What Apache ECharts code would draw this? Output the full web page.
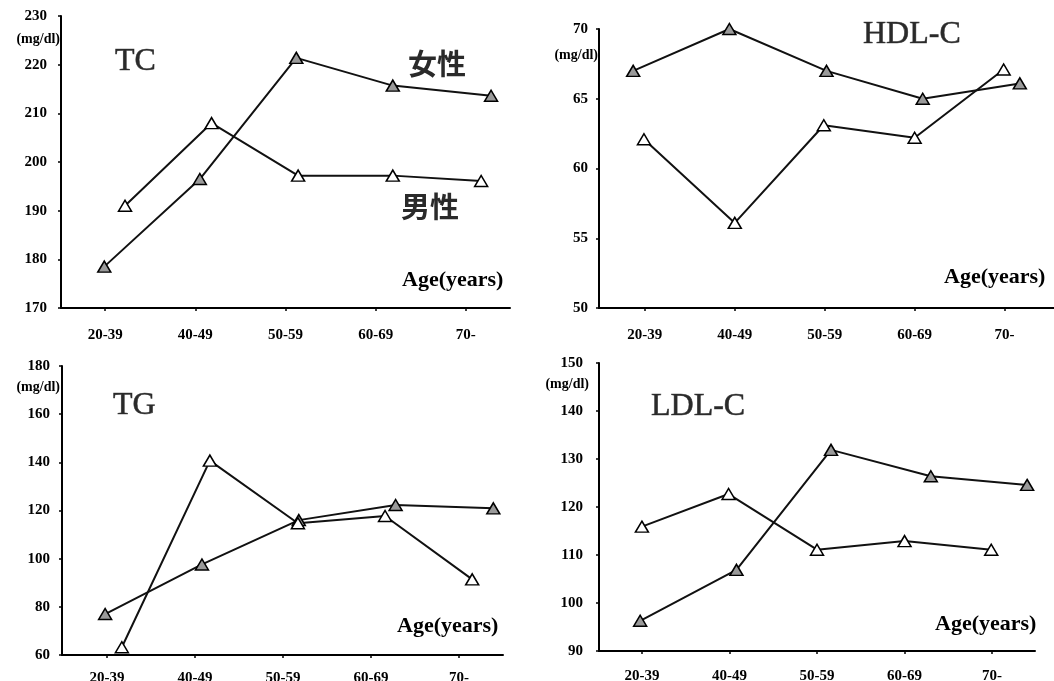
<!DOCTYPE html>
<html>
<head>
<meta charset="utf-8">
<script src="https://cdn.jsdelivr.net/npm/echarts@6/dist/echarts.min.js"></script>
<style>
  html, body { margin: 0; padding: 0; background: #ffffff; }
  #chart { width: 1054px; height: 681px; }
</style>
</head>
<body>
<div id="chart"></div>
<script>
// age groups (tick labels at 1..5 on the x axis)
const ageGroups = ['20-39', '40-49', '50-59', '60-69', '70-'];
const tickPos = [1, 2, 3, 4, 5];

// points in the figure are drawn slightly off their tick, so x is kept as read
const tcFemaleX = [0.99, 2.05, 3.12, 4.19, 5.28];
const tcFemale = [178.5, 196.5, 221.4, 215.7, 213.6];
const tcMaleX = [1.22, 2.18, 3.14, 4.19, 5.17];
const tcMale = [191, 208, 197.2, 197.2, 196.1];

const hdlFemaleX = [0.87, 1.94, 3.02, 4.09, 5.17];
const hdlFemale = [67, 70, 67, 65, 66.1];
const hdlMaleX = [0.99, 2.0, 2.99, 4.0, 4.99];
const hdlMale = [62.1, 56.1, 63.1, 62.2, 67.1];

const tgFemaleX = [0.98, 2.08, 3.18, 4.28, 5.39];
const tgFemale = [77, 97.6, 116, 122.3, 120.9];
const tgMaleX = [1.17, 2.17, 3.17, 4.16, 5.15];
const tgMale = [63.2, 140.7, 114.7, 117.7, 91.4];

const ldlFemaleX = [0.98, 2.08, 3.16, 4.3, 5.4];
const ldlFemale = [96.3, 106.9, 131.9, 126.4, 124.6];
const ldlMaleX = [1.0, 1.99, 3.0, 4.0, 4.99];
const ldlMale = [115.9, 122.7, 111.1, 112.9, 111.1];

const SERIF = '"Liberation Serif", "DejaVu Serif", serif';
const CJK = '"Noto Sans CJK JP", "Noto Sans CJK SC", sans-serif';

const zip = (xs, ys) => xs.map((x, i) => [x, ys[i]]);

const panels = [
    { grid: { left: 61, top: 16, width: 449, height: 292 }, x: [0.51, 5.49], y: [170, 230, 10], xMargin: 20, yMargin: 14,
      female: zip(tcFemaleX, tcFemale), male: zip(tcMaleX, tcMale) },
    { grid: { left: 599, top: 29, width: 455, height: 279 }, x: [0.49, 5.55], y: [50, 70, 5], xMargin: 20, yMargin: 11,
      female: zip(hdlFemaleX, hdlFemale), male: zip(hdlMaleX, hdlMale) },
    { grid: { left: 62, top: 366, width: 441, height: 289 }, x: [0.49, 5.5], y: [60, 180, 20], xMargin: 16, yMargin: 12,
      female: zip(tgFemaleX, tgFemale), male: zip(tgMaleX, tgMale) },
    { grid: { left: 599, top: 363, width: 436, height: 288 }, x: [0.51, 5.49], y: [90, 150, 10], xMargin: 18, yMargin: 16,
      female: zip(ldlFemaleX, ldlFemale), male: zip(ldlMaleX, ldlMale) },
];

const axisLine = { show: true, lineStyle: { color: '#000', width: 2 } };
const axisTick = { show: true, inside: false, length: 3, lineStyle: { color: '#000', width: 1.5 } };

const lineSeries = (data, idx, fill) => ({
    type: 'line',
    xAxisIndex: idx,
    yAxisIndex: idx,
    data: data,
    symbol: 'triangle',
    symbolSize: [13, 11],
    lineStyle: { color: '#111', width: 2 },
    itemStyle: { color: fill, borderColor: '#000', borderWidth: 1.5 },
    z: 3,
});

const textEl = (text, x, y, font, opts = {}) => ({
    type: 'text',
    x: x,
    y: y,
    style: Object.assign({
        text: text,
        font: font,
        fill: '#222',
        textAlign: 'left',
        textVerticalAlign: 'middle',
    }, opts),
});

const option = {
    backgroundColor: '#ffffff',
    animation: false,
    grid: panels.map(p => Object.assign({ containLabel: false, outerBoundsMode: 'none' }, p.grid)),
    xAxis: panels.map((p, i) => ({
        type: 'value',
        gridIndex: i,
        min: p.x[0],
        max: p.x[1],
        axisLine: axisLine,
        axisTick: Object.assign({ customValues: tickPos }, axisTick),
        splitLine: { show: false },
        axisLabel: {
            customValues: tickPos,
            formatter: v => ageGroups[Math.round(v) - 1],
            color: '#000',
            fontFamily: SERIF,
            fontWeight: 'bold',
            fontSize: 15,
            margin: p.xMargin,
        },
    })),
    yAxis: panels.map((p, i) => ({
        type: 'value',
        gridIndex: i,
        min: p.y[0],
        max: p.y[1],
        interval: p.y[2],
        axisLine: axisLine,
        axisTick: axisTick,
        splitLine: { show: false },
        axisLabel: {
            color: '#000',
            fontFamily: SERIF,
            fontWeight: 'bold',
            fontSize: 15,
            margin: p.yMargin,
        },
    })),
    series: panels.flatMap((p, i) => [
        lineSeries(p.female, i, '#9a9a9a'),
        lineSeries(p.male, i, '#ffffff'),
    ]),
    graphic: [
        // units under the top tick
        textEl('(mg/dl)', 60, 39, 'bold 14px ' + SERIF, { textAlign: 'right', fill: '#000' }),
        textEl('(mg/dl)', 598, 55, 'bold 14px ' + SERIF, { textAlign: 'right', fill: '#000' }),
        textEl('(mg/dl)', 60, 387, 'bold 14px ' + SERIF, { textAlign: 'right', fill: '#000' }),
        textEl('(mg/dl)', 589, 384, 'bold 14px ' + SERIF, { textAlign: 'right', fill: '#000' }),
        // panel titles
        textEl('TC', 115, 62, '32px ' + SERIF, { fill: '#2a2a2a', stroke: '#555', lineWidth: 0.6 }),
        textEl('HDL-C', 863, 35, '32px ' + SERIF, { fill: '#2a2a2a', stroke: '#555', lineWidth: 0.6 }),
        textEl('TG', 113, 406, '32px ' + SERIF, { fill: '#2a2a2a', stroke: '#555', lineWidth: 0.6 }),
        textEl('LDL-C', 651, 407, '32px ' + SERIF, { fill: '#2a2a2a', stroke: '#555', lineWidth: 0.6 }),
        // sex labels
        textEl('女性', 437, 64, 'bold 29px ' + CJK, { textAlign: 'center', fill: '#2a2a2a' }),
        textEl('男性', 430, 207, 'bold 29px ' + CJK, { textAlign: 'center', fill: '#2a2a2a' }),
        // x axis names
        textEl('Age(years)', 402, 280, 'bold 22px ' + SERIF, { fill: '#000' }),
        textEl('Age(years)', 944, 277, 'bold 22px ' + SERIF, { fill: '#000' }),
        textEl('Age(years)', 397, 626, 'bold 22px ' + SERIF, { fill: '#000' }),
        textEl('Age(years)', 935, 624, 'bold 22px ' + SERIF, { fill: '#000' }),
    ],
};

const chart = echarts.init(document.getElementById('chart'), null, { renderer: 'canvas' });
chart.setOption(option);
</script>
</body>
</html>
